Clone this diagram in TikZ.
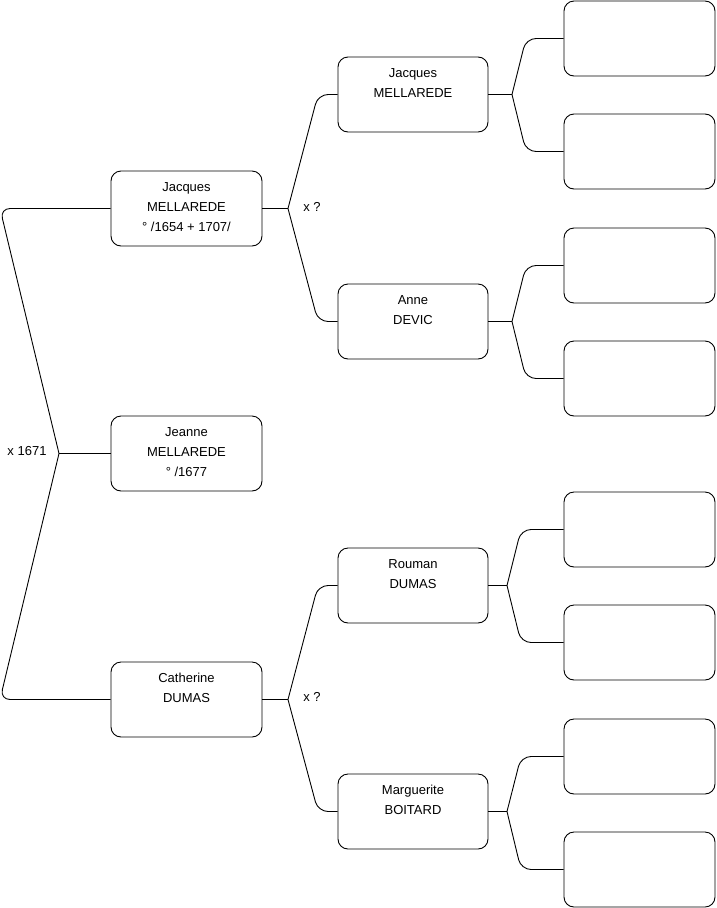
\documentclass[tikz,border=0pt]{standalone}
\usepackage{fontspec}
\setmainfont{Liberation Sans}
\tikzset{
  person/.style={draw, rounded corners=10pt, minimum width=151pt, minimum height=75pt, inner xsep=0pt, inner ysep=6.5pt, line width=0.9pt},
  link/.style={line width=0.9pt},
  lbl/.style={font=\fontsize{13}{16}\selectfont, inner sep=0pt}
}
\newcommand{\ptxt}[1]{\parbox[c][62pt][t]{150pt}{\centering\fontsize{13}{20}\selectfont\strut #1}}
\begin{document}
\begin{tikzpicture}[x=1pt,y=-1pt]
\useasboundingbox (0,0) rectangle (716,908);
% generation 1
\node[person] (p1) at (186.5,208.5) {\ptxt{Jacques\\MELLAREDE\\° /1654 + 1707/}};
\node[person] (p2) at (186.5,453.5) {\ptxt{Jeanne\\MELLAREDE\\° /1677}};
\node[person] (p3) at (186.5,699.5) {\ptxt{Catherine\\DUMAS}};
% generation 2
\node[person, minimum width=150pt] (f)  at (413,94.5)  {\ptxt{Jacques\\MELLAREDE}};
\node[person, minimum width=150pt] (m)  at (413,321.5) {\ptxt{Anne\\DEVIC}};
\node[person, minimum width=150pt] (ff) at (413,585.5) {\ptxt{Rouman\\DUMAS}};
\node[person, minimum width=150pt] (mm) at (413,811.5) {\ptxt{Marguerite\\BOITARD}};
% generation 3
\node[person] (g1) at (639.5,38.5)  {};
\node[person] (g2) at (639.5,151.5) {};
\node[person] (g3) at (639.5,265.5) {};
\node[person] (g4) at (639.5,378.5) {};
\node[person] (g5) at (639.5,529.5) {};
\node[person] (g6) at (639.5,642.5) {};
\node[person] (g7) at (639.5,756.5) {};
\node[person] (g8) at (639.5,869.5) {};
% labels
\node[lbl] (l0) at (27,451) {x 1671};
\node[lbl] (l1) at (312,207) {x ?};
\node[lbl] (l2) at (312,697) {x ?};
% junctions and corners
\coordinate (j0) at (59,453.5);
\coordinate (c0a) at (0,208.5);
\coordinate (c0b) at (0,699.5);
\coordinate (j1) at (288,208.5);
\coordinate (c1a) at (318,94.5);
\coordinate (c1b) at (318,321.5);
\coordinate (j2) at (288,699.5);
\coordinate (c2a) at (318,585.5);
\coordinate (c2b) at (318,811.5);
\coordinate (jf) at (512,94.5);
\coordinate (cfa) at (526,38.5);
\coordinate (cfb) at (526,151.5);
\coordinate (jm) at (512,321.5);
\coordinate (cma) at (526,265.5);
\coordinate (cmb) at (526,378.5);
\coordinate (jff) at (507,585.5);
\coordinate (cffa) at (521,529.5);
\coordinate (cffb) at (521,642.5);
\coordinate (jmm) at (507,811.5);
\coordinate (cmma) at (521,756.5);
\coordinate (cmmb) at (521,869.5);
% connectors
\draw[link] (p2.west) -- (j0);
\draw[link, rounded corners=10pt] (j0) -- (c0a) -- (p1.west);
\draw[link, rounded corners=10pt] (j0) -- (c0b) -- (p3.west);
\draw[link] (p1.east) -- (j1);
\draw[link, rounded corners=10pt] (j1) -- (c1a) -- (f.west);
\draw[link, rounded corners=10pt] (j1) -- (c1b) -- (m.west);
\draw[link] (p3.east) -- (j2);
\draw[link, rounded corners=10pt] (j2) -- (c2a) -- (ff.west);
\draw[link, rounded corners=10pt] (j2) -- (c2b) -- (mm.west);
\draw[link] (f.east) -- (jf);
\draw[link, rounded corners=10pt] (jf) -- (cfa) -- (g1.west);
\draw[link, rounded corners=10pt] (jf) -- (cfb) -- (g2.west);
\draw[link] (m.east) -- (jm);
\draw[link, rounded corners=10pt] (jm) -- (cma) -- (g3.west);
\draw[link, rounded corners=10pt] (jm) -- (cmb) -- (g4.west);
\draw[link] (ff.east) -- (jff);
\draw[link, rounded corners=10pt] (jff) -- (cffa) -- (g5.west);
\draw[link, rounded corners=10pt] (jff) -- (cffb) -- (g6.west);
\draw[link] (mm.east) -- (jmm);
\draw[link, rounded corners=10pt] (jmm) -- (cmma) -- (g7.west);
\draw[link, rounded corners=10pt] (jmm) -- (cmmb) -- (g8.west);
\end{tikzpicture}
\end{document}
